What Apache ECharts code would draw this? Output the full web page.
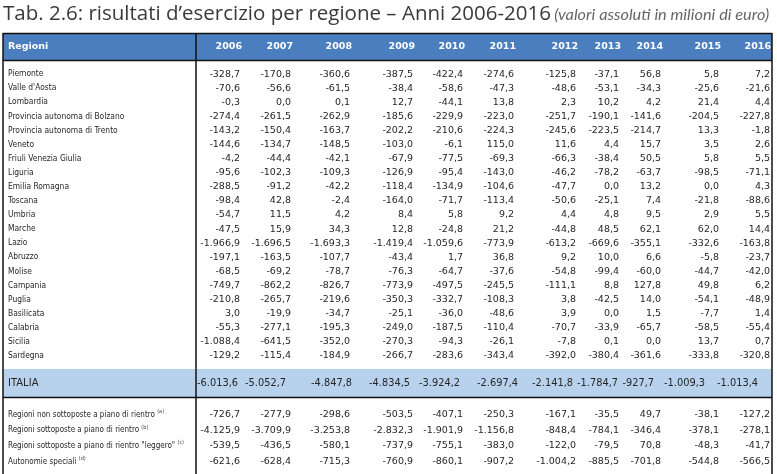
<!DOCTYPE html>
<html><head><meta charset="utf-8">
<script src="https://cdn.jsdelivr.net/npm/echarts@6/dist/echarts.min.js"></script>
<style>html,body{margin:0;padding:0;background:#fff}#c{width:777px;height:474px}</style>
</head><body><div id="c"></div><script>
// ---------- DATA ----------
const years = ['2006','2007','2008','2009','2010','2011','2012','2013','2014','2015','2016'];
const regions = ['Piemonte',"Valle d'Aosta",'Lombardia','Provincia autonoma di Bolzano','Provincia autonoma di Trento','Veneto','Friuli Venezia Giulia','Liguria','Emilia Romagna','Toscana','Umbria','Marche','Lazio','Abruzzo','Molise','Campania','Puglia','Basilicata','Calabria','Sicilia','Sardegna'];
const piemonte   = [-328.7,-170.8,-360.6,-387.5,-422.4,-274.6,-125.8,-37.1,56.8,5.8,7.2];
const valleAosta = [-70.6,-56.6,-61.5,-38.4,-58.6,-47.3,-48.6,-53.1,-34.3,-25.6,-21.6];
const lombardia  = [-0.3,0.0,0.1,12.7,-44.1,13.8,2.3,10.2,4.2,21.4,4.4];
const bolzano    = [-274.4,-261.5,-262.9,-185.6,-229.9,-223.0,-251.7,-190.1,-141.6,-204.5,-227.8];
const trento     = [-143.2,-150.4,-163.7,-202.2,-210.6,-224.3,-245.6,-223.5,-214.7,13.3,-1.8];
const veneto     = [-144.6,-134.7,-148.5,-103.0,-6.1,115.0,11.6,4.4,15.7,3.5,2.6];
const friuli     = [-4.2,-44.4,-42.1,-67.9,-77.5,-69.3,-66.3,-38.4,50.5,5.8,5.5];
const liguria    = [-95.6,-102.3,-109.3,-126.9,-95.4,-143.0,-46.2,-78.2,-63.7,-98.5,-71.1];
const emilia     = [-288.5,-91.2,-42.2,-118.4,-134.9,-104.6,-47.7,0.0,13.2,0.0,4.3];
const toscana    = [-98.4,42.8,-2.4,-164.0,-71.7,-113.4,-50.6,-25.1,7.4,-21.8,-88.6];
const umbria     = [-54.7,11.5,4.2,8.4,5.8,9.2,4.4,4.8,9.5,2.9,5.5];
const marche     = [-47.5,15.9,34.3,12.8,-24.8,21.2,-44.8,48.5,62.1,62.0,14.4];
const lazio      = [-1966.9,-1696.5,-1693.3,-1419.4,-1059.6,-773.9,-613.2,-669.6,-355.1,-332.6,-163.8];
const abruzzo    = [-197.1,-163.5,-107.7,-43.4,1.7,36.8,9.2,10.0,6.6,-5.8,-23.7];
const molise     = [-68.5,-69.2,-78.7,-76.3,-64.7,-37.6,-54.8,-99.4,-60.0,-44.7,-42.0];
const campania   = [-749.7,-862.2,-826.7,-773.9,-497.5,-245.5,-111.1,8.8,127.8,49.8,6.2];
const puglia     = [-210.8,-265.7,-219.6,-350.3,-332.7,-108.3,3.8,-42.5,14.0,-54.1,-48.9];
const basilicata = [3.0,-19.9,-34.7,-25.1,-36.0,-48.6,3.9,0.0,1.5,-7.7,1.4];
const calabria   = [-55.3,-277.1,-195.3,-249.0,-187.5,-110.4,-70.7,-33.9,-65.7,-58.5,-55.4];
const sicilia    = [-1088.4,-641.5,-352.0,-270.3,-94.3,-26.1,-7.8,0.1,0.0,13.7,0.7];
const sardegna   = [-129.2,-115.4,-184.9,-266.7,-283.6,-343.4,-392.0,-380.4,-361.6,-333.8,-320.8];
const italia     = [-6013.6,-5052.7,-4847.8,-4834.5,-3924.2,-2697.4,-2141.8,-1784.7,-927.7,-1009.3,-1013.4];
const groupLabels = ['Regioni non sottoposte a piano di rientro','Regioni sottoposte a piano di rientro','Regioni sottoposte a piano di rientro "leggero"','Autonomie speciali'];
const groupNotes  = ['(a)','(b)','(c)','(d)'];
const nonSottoposte = [-726.7,-277.9,-298.6,-503.5,-407.1,-250.3,-167.1,-35.5,49.7,-38.1,-127.2];
const sottoposte    = [-4125.9,-3709.9,-3253.8,-2832.3,-1901.9,-1156.8,-848.4,-784.1,-346.4,-378.1,-278.1];
const leggero       = [-539.5,-436.5,-580.1,-737.9,-755.1,-383.0,-122.0,-79.5,70.8,-48.3,-41.7];
const autonomie     = [-621.6,-628.4,-715.3,-760.9,-860.1,-907.2,-1004.2,-885.5,-701.8,-544.8,-566.5];

// ---------- LAYOUT ----------
const COL_RIGHT   = [240, 291, 350, 413, 463, 514, 576, 619, 661, 719, 770];
const HEAD_RIGHT  = [242, 293, 352, 415, 465, 516, 578, 621, 663, 721, 771];
const ITAL_RIGHT  = [238, 286, 352, 410, 460, 518, 573, 618, 654, 705, 758];
const TABLE_L = 3, TABLE_R = 772, DIVIDER = 196;
const NUM_FONT = '"DejaVu Sans", sans-serif';
const LBL_FONT = '"DejaVu Sans Condensed", "Liberation Sans", sans-serif';
const TXT = '#262626';

const regionRows = [piemonte,valleAosta,lombardia,bolzano,trento,veneto,friuli,liguria,emilia,toscana,umbria,marche,lazio,abruzzo,molise,campania,puglia,basilicata,calabria,sicilia,sardegna];
const groupRows = [nonSottoposte,sottoposte,leggero,autonomie];

function fmt(v){
  const s = Math.abs(v).toFixed(1).split('.');
  const i = s[0].replace(/\B(?=(\d{3})+(?!\d))/g,'.');
  return (v < 0 ? '-' : '') + i + ',' + s[1];
}

function cellsFrom(rows, edges){
  const out = [];
  rows.forEach((r, ri) => r.forEach((v, ci) => out.push([edges[ci], ri, fmt(v)])));
  return out;
}

function textSeries(gi, data, opts){
  return {
    type: 'custom', coordinateSystem: 'cartesian2d', xAxisIndex: gi, yAxisIndex: gi,
    silent: true, animation: false, clip: false,
    data: data,
    renderItem: function(params, api){
      const d = data[params.dataIndex];
      const p = api.coord([d[0], d[1]]);
      return { type: 'text', style: Object.assign({
        x: p[0], y: p[1], text: d[2], align: opts.align || 'right', verticalAlign: 'middle',
        font: opts.font, fill: opts.fill || TXT
      }, opts.rich ? {rich: opts.rich} : {}) };
    }
  };
}

const gridBase = {left: TABLE_L, width: TABLE_R - TABLE_L, containLabel: false};
const grids = [
  Object.assign({}, gridBase, {top: 34, height: 26, show: true, backgroundColor: '#4a7ebf', borderWidth: 0}),
  Object.assign({}, gridBase, {top: 67, height: 296}),
  Object.assign({}, gridBase, {top: 369, height: 28, show: true, backgroundColor: '#b8d1ec', borderWidth: 0}),
  Object.assign({}, gridBase, {top: 407, height: 62.4})
];
const yCats = [['Regioni'], regions, ['ITALIA'], groupLabels];
const xAxes = grids.map((g, i) => ({gridIndex: i, type: 'value', min: TABLE_L, max: TABLE_R, show: false}));
const yAxes = yCats.map((c, i) => ({gridIndex: i, type: 'category', data: c, inverse: true, show: false}));

const series = [];
// header
series.push(textSeries(0, [[8, 0, 'Regioni']], {align: 'left', font: 'bold 9.5px ' + NUM_FONT, fill: '#fff'}));
series.push(textSeries(0, years.map((y, i) => [HEAD_RIGHT[i], 0, y]), {font: 'bold 9.5px ' + NUM_FONT, fill: '#fff'}));
// regions
series.push(textSeries(1, regions.map((r, i) => [8, i, r]), {align: 'left', font: '8.4px ' + LBL_FONT}));
series.push(textSeries(1, cellsFrom(regionRows, COL_RIGHT), {font: '9.5px ' + NUM_FONT}));
// italia
series.push(textSeries(2, [[8, 0, 'ITALIA']], {align: 'left', font: '10px ' + NUM_FONT}));
series.push(textSeries(2, cellsFrom([italia], ITAL_RIGHT), {font: '9.8px ' + NUM_FONT}));
// groups
series.push(textSeries(3, groupLabels.map((g, i) => [8, i, '{t|' + g + '} {s|' + groupNotes[i] + '}']),
  {align: 'left', font: '8px ' + LBL_FONT, rich: {t: {font: '8px ' + LBL_FONT, fill: TXT}, s: {font: '5.5px ' + LBL_FONT, fill: '#444', verticalAlign: 'top', padding: [0,0,6,0]}}}));
series.push(textSeries(3, cellsFrom(groupRows, COL_RIGHT), {font: '9.5px ' + NUM_FONT}));

const LINE = {stroke: '#111', lineWidth: 1.5};
const chart = echarts.init(document.getElementById('c'), null, {renderer: 'canvas'});
chart.setOption({
  animation: false,
  grid: grids, xAxis: xAxes, yAxis: yAxes, series: series,
  graphic: [
    {type: 'text', left: 3, top: 4, style: {
      text: '{a|Tab. 2.6: risultati d\u2019esercizio per regione \u2013 Anni 2006-2016} {b|(valori assoluti in milioni di euro)}',
      rich: {a: {font: '20.5px "Open Sans", sans-serif', fill: '#3a3a3a'}, b: {font: 'italic 16.3px Lato, sans-serif', fill: '#666'}}
    }},
    {type: 'line', shape: {x1: TABLE_L, y1: 33.5, x2: TABLE_R, y2: 33.5}, style: LINE},
    {type: 'line', shape: {x1: TABLE_L, y1: 60.5, x2: TABLE_R, y2: 60.5}, style: LINE},
    {type: 'line', shape: {x1: TABLE_L, y1: 397.5, x2: TABLE_R, y2: 397.5}, style: LINE},
    {type: 'line', shape: {x1: TABLE_L, y1: 33, x2: TABLE_L, y2: 474}, style: LINE},
    {type: 'line', shape: {x1: TABLE_R, y1: 33, x2: TABLE_R, y2: 474}, style: LINE},
    {type: 'line', shape: {x1: DIVIDER, y1: 33, x2: DIVIDER, y2: 474}, style: LINE}
  ]
});
</script></body></html>
